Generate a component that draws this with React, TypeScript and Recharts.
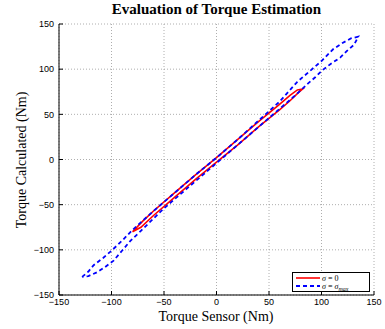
import { CartesianGrid, Label, Line, LineChart, XAxis, YAxis } from "recharts";

const TICKS = [-150, -100, -50, 0, 50, 100, 150];

// sigma = 0 loop (up branch, then back down)
const SIGMA0_X = [-80, -70, -60, -40, -20, 0, 20, 40, 60, 70, 77, 82, 78, 70, 60, 40, 20, 0, -20, -40, -60, -72, -80];
const SIGMA0_Y = [-80, -68, -57, -37, -17, 2, 22, 42, 61, 71, 77, 78, 74, 65, 55, 36, 16, -3, -22, -42, -62, -75, -80];

// sigma = sigma_max loop
const SIGMAMAX_X = [
  -128, -122, -117, -108, -100, -90, -80, -60, -40, -20, 0, 20, 40, 60, 77, 90, 100, 111, 120, 128, 135,
  131, 124, 118, 109, 101, 94, 87, 75, 50, 30, 10, -10, -30, -50, -72, -82, -90, -98, -106, -114, -122, -128,
];
const SIGMAMAX_Y = [
  -130, -124, -117, -109, -101, -90, -78, -57, -37, -17, 2, 22, 43, 64, 86, 99, 109, 122, 129, 134, 136,
  127, 120, 113, 106, 99, 91, 84, 71, 46, 26, 6, -14, -34, -54, -79, -90, -101, -112, -119, -125, -129, -130,
];

const sigma0 = SIGMA0_X.map((x, i) => ({ x, y: SIGMA0_Y[i] }));
const sigmaMax = SIGMAMAX_X.map((x, i) => ({ x, y: SIGMAMAX_Y[i] }));

const fmt = (v: number) => (v < 0 ? "\u2212" + Math.abs(v) : String(v));
const blank = () => "";
const tickFont = { fontSize: 9, fill: "#000", fontFamily: "Liberation Sans, Arial, sans-serif" };

export default function App() {
  return (
    <div style={{ position: "absolute", left: 0, top: 0, width: 385, height: 329, background: "#fff" }}>
      <div
        style={{
          position: "absolute",
          top: 1,
          left: 59,
          width: 315,
          textAlign: "center",
          fontFamily: "Liberation Serif, serif",
          fontWeight: "bold",
          fontSize: 15,
        }}
      >
        Evaluation of Torque Estimation
      </div>
      <LineChart width={385} height={329} margin={{ top: 24, right: 11, left: 0, bottom: 0 }}>
        <CartesianGrid stroke="#999" strokeDasharray="1 2" strokeWidth={0.8} />
        <XAxis
          dataKey="x"
          type="number"
          domain={[-150, 150]}
          ticks={TICKS}
          tickFormatter={fmt}
          height={34}
          tickSize={-4}
          tickMargin={8}
          tick={tickFont}
          stroke="#000"
          allowDataOverflow
        >
          <Label
            content={() => (
              <text x={216} y={321} textAnchor="middle" fontFamily="Liberation Serif, serif" fontSize={14} fill="#000">
                Torque Sensor (Nm)
              </text>
            )}
          />
        </XAxis>
        <XAxis
          xAxisId="top"
          orientation="top"
          type="number"
          domain={[-150, 150]}
          ticks={TICKS}
          tickFormatter={blank}
          height={0}
          tickSize={-4}
          stroke="#000"
          allowDataOverflow
        />
        <YAxis
          dataKey="y"
          type="number"
          domain={[-150, 150]}
          ticks={TICKS}
          tickFormatter={fmt}
          width={59}
          tickSize={-4}
          tickMargin={9}
          tick={tickFont}
          stroke="#000"
          allowDataOverflow
        >
          <Label
            content={() => (
              <text
                x={26}
                y={160}
                transform="rotate(-90 26 160)"
                textAnchor="middle"
                fontFamily="Liberation Serif, serif"
                fontSize={14}
                fill="#000"
              >
                Torque Calculated (Nm)
              </text>
            )}
          />
        </YAxis>
        <YAxis
          yAxisId="right"
          orientation="right"
          type="number"
          domain={[-150, 150]}
          ticks={TICKS}
          tickFormatter={blank}
          width={0}
          tickSize={-4}
          stroke="#000"
          allowDataOverflow
        />
        <Line
          data={sigma0}
          dataKey="y"
          stroke="#ff0000"
          strokeWidth={1.6}
          dot={false}
          isAnimationActive={false}
          type="linear"
        />
        <Line
          data={sigmaMax}
          dataKey="y"
          stroke="#0000ff"
          strokeWidth={1.8}
          strokeDasharray="4 3"
          dot={false}
          isAnimationActive={false}
          type="linear"
        />
      </LineChart>
      <div
        style={{
          position: "absolute",
          left: 292,
          top: 272,
          width: 76,
          height: 18,
          border: "1px solid #000",
          background: "#fff",
        }}
      >
        <svg width={76} height={18} style={{ position: "absolute", left: 0, top: 0 }}>
          <line x1={3} y1={5} x2={27} y2={5} stroke="#ff0000" strokeWidth={1.6} />
          <line x1={3} y1={13} x2={27} y2={13} stroke="#0000ff" strokeWidth={1.8} strokeDasharray="4 3" />
          <text x={29} y={8} fontSize={8} fontFamily="Liberation Serif, serif">
            <tspan fontStyle="italic">σ</tspan> = 0
          </text>
          <text x={29} y={16} fontSize={8} fontFamily="Liberation Serif, serif">
            <tspan fontStyle="italic">σ</tspan> = <tspan fontStyle="italic">σ</tspan>
            <tspan fontSize={6} fontStyle="italic" dy={2}>max</tspan>
          </text>
        </svg>
      </div>
    </div>
  );
}
